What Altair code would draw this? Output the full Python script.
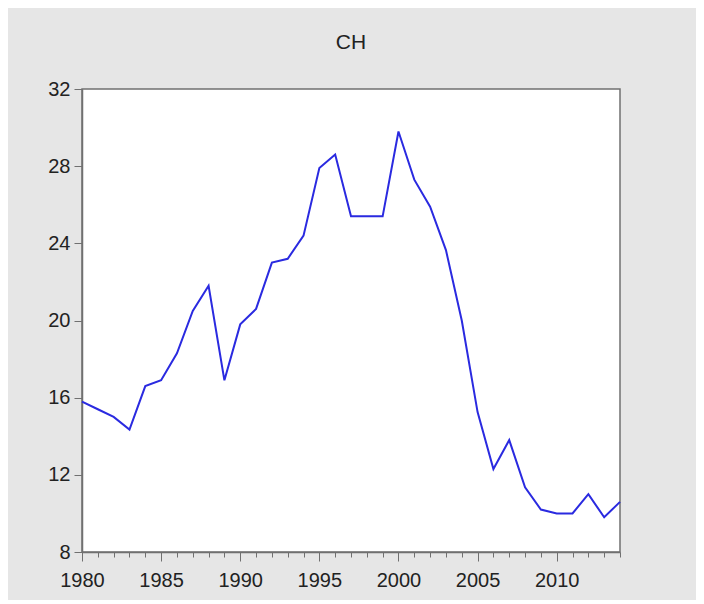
import altair as alt
import pandas as pd

years = list(range(1980, 2015))
values = [15.8, 15.4, 15.0, 14.35, 16.6, 16.9, 18.3, 20.5, 21.8, 16.9,
          19.8, 20.6, 23.0, 23.2, 24.4, 27.9, 28.6, 25.4, 25.4, 25.4,
          29.8, 27.3, 25.9, 23.65, 20.0, 15.25, 12.3, 13.8, 11.35, 10.2,
          10.0, 10.0, 11.0, 9.8, 10.6]
y_ticks = [8, 12, 16, 20, 24, 28, 32]
x_major = [1980, 1985, 1990, 1995, 2000, 2005, 2010]

df = pd.DataFrame({"year": years, "CH": values})
FONT = "Liberation Sans"
AX = "#707070"

yscale = alt.Scale(domain=[8, 32], nice=False, zero=False)
xscale = alt.Scale(domain=[1980, 2014], nice=False, zero=False)

x_minor = alt.X("year:Q", scale=xscale,
                axis=alt.Axis(values=years, labels=False, tickSize=5, grid=False,
                              domainColor=AX, tickColor=AX, domainWidth=1.5,
                              title=None, orient="bottom"))
x_major_axis = alt.X("year:Q", scale=xscale,
                     axis=alt.Axis(values=x_major, format="d", tickSize=9, grid=False,
                                   domain=False, tickColor=AX, labelFontSize=20,
                                   labelFont=FONT, labelColor="#222222",
                                   labelFlush=False, labelOverlap=False,
                                   labelPadding=9, title=None, orient="bottom"))
y_enc = alt.Y("CH:Q", scale=yscale,
              axis=alt.Axis(values=y_ticks, tickSize=8, grid=False,
                            domainColor=AX, tickColor=AX, domainWidth=1.5,
                            labelFontSize=20, labelFont=FONT, labelColor="#222222",
                            labelFlush=False, labelOverlap=False,
                            labelPadding=4, title=None))

line = alt.Chart(df).mark_line(color="#2a2ae0", strokeWidth=2).encode(x=x_minor, y=y_enc)
ticks = alt.Chart(df).mark_point(opacity=0).encode(x=x_major_axis, y=y_enc)

chart = alt.layer(line, ticks).resolve_axis(x="independent").properties(
    width=538, height=463,
    title=alt.TitleParams("CH", fontSize=21, font=FONT, fontWeight="normal",
                          color="#222222", offset=26, anchor="middle"),
    background="#e6e6e6",
    padding={"left": 74, "top": 81, "right": 76, "bottom": 48},
    autosize=alt.AutoSizeParams(type="none"),
).configure_view(stroke=AX, strokeWidth=1.5, fill="white")

chart.save("out.html", embed_options={"renderer": "svg", "actions": False})
